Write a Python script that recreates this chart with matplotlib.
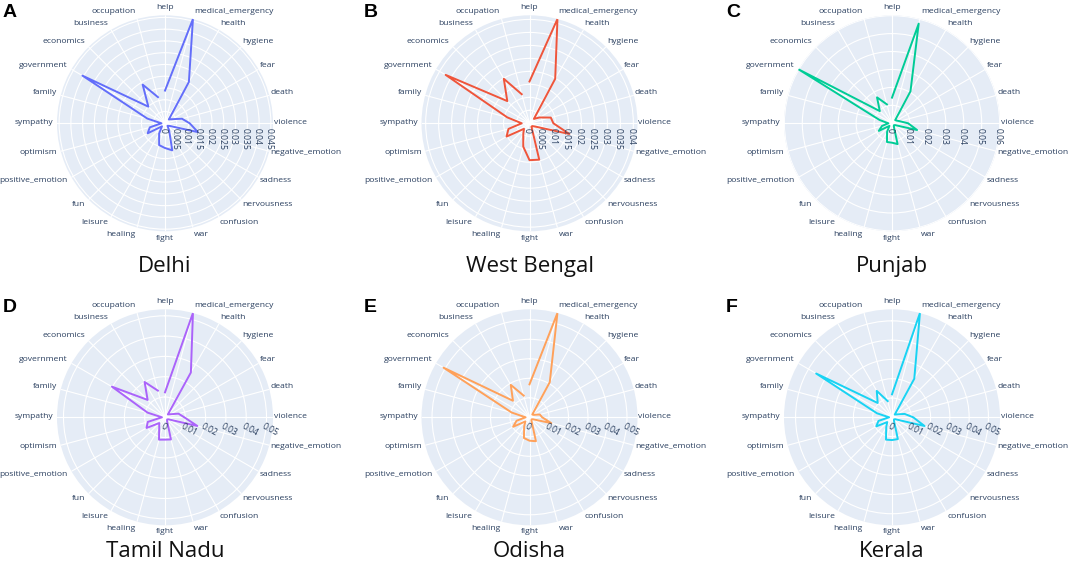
import numpy as np
import matplotlib
matplotlib.use("Agg")
from matplotlib import pyplot as plt

categories = ['help', 'medical_emergency', 'health', 'hygiene', 'fear', 'death',
              'violence', 'negative_emotion', 'sadness', 'nervousness', 'confusion',
              'war', 'fight', 'healing', 'leisure', 'fun', 'positive_emotion',
              'optimism', 'sympathy', 'family', 'government', 'economics',
              'business', 'occupation']

delhi = [0.0139, 0.0459, 0.0203, 0.0023, 0.0035, 0.0075, 0.0105, 0.0145,
         0.0022, 0.0015, 0.0035, 0.0119, 0.0105, 0.0096, 0.0050, 0.0018,
         0.0085, 0.0067, 0.0015, 0.0078, 0.0405, 0.0100, 0.0190, 0.0115]
west_bengal = [0.0161, 0.0416, 0.0198, 0.0024, 0.0045, 0.0085, 0.0092, 0.0159,
               0.0025, 0.0015, 0.0015, 0.0145, 0.0142, 0.0093, 0.0048, 0.0030,
               0.0102, 0.0084, 0.0030, 0.0089, 0.0373, 0.0121, 0.0198, 0.0116]
punjab = [0.0143, 0.0575, 0.0206, 0.0025, 0.0030, 0.0045, 0.0090, 0.0145,
          0.0020, 0.0015, 0.0020, 0.0120, 0.0108, 0.0108, 0.0055, 0.0020,
          0.0085, 0.0058, 0.0020, 0.0072, 0.0602, 0.0096, 0.0167, 0.0109]
tamil_nadu = [0.0123, 0.0532, 0.0255, 0.0020, 0.0030, 0.0069, 0.0095, 0.0165,
              0.0020, 0.0015, 0.0020, 0.0113, 0.0110, 0.0114, 0.0057, 0.0040,
              0.0105, 0.0088, 0.0015, 0.0089, 0.0302, 0.0121, 0.0201, 0.0136]
odisha = [0.0169, 0.0554, 0.0208, 0.0020, 0.0025, 0.0055, 0.0065, 0.0116,
          0.0020, 0.0015, 0.0020, 0.0127, 0.0120, 0.0110, 0.0055, 0.0030,
          0.0097, 0.0069, 0.0020, 0.0095, 0.0509, 0.0120, 0.0192, 0.0115]
kerala = [0.0119, 0.0560, 0.0231, 0.0020, 0.0030, 0.0068, 0.0110, 0.0175,
          0.0020, 0.0015, 0.0020, 0.0117, 0.0118, 0.0120, 0.0060, 0.0035,
          0.0094, 0.0073, 0.0015, 0.0081, 0.0454, 0.0105, 0.0158, 0.0087]

series = [delhi, west_bengal, punjab, tamil_nadu, odisha, kerala]
states = ['Delhi', 'West Bengal', 'Punjab', 'Tamil Nadu', 'Odisha', 'Kerala']
letters = ['A', 'B', 'C', 'D', 'E', 'F']
tick_steps = [0.005, 0.005, 0.01, 0.01, 0.01, 0.01]

colors = ['#636EFA', '#EF553B', '#00CC96', '#AB63FA', '#FFA15A', '#19D3F3']
bg_color = '#E5ECF6'
text_color = '#2a3f5f'

W, H = 1072, 563
R = 108
col_x = [165, 529.5, 892]
row_y = [123.3, 417.3]
title_y = [272, 557]      # baseline of state names
letter_x = [3, 364, 726]
letter_y = [4, 299]

fig = plt.figure(figsize=(W / 100, H / 100), dpi=100)
theta = np.deg2rad(np.arange(len(categories)) * 15)

for i, values in enumerate(series):
    row, col = divmod(i, 3)
    cx, cy = col_x[col], row_y[row]
    ax = fig.add_axes([(cx - R) / W, 1 - (cy + R) / H, 2 * R / W, 2 * R / H],
                      projection='polar')
    ax.set_theta_zero_location('N')
    ax.set_theta_direction(-1)
    rmax = max(values)
    ax.set_ylim(0, rmax)
    ax.set_facecolor(bg_color)
    ax.spines['polar'].set_visible(False)

    ticks = np.arange(0, rmax + 1e-9, tick_steps[i])
    ax.set_xticks(theta)
    ax.set_xticklabels([])
    ax.set_yticks(ticks)
    ax.set_yticklabels([])
    ax.tick_params(length=0)
    ax.grid(True, color='white', linewidth=0.8)
    ax.set_axisbelow(True)

    ax.plot(theta, values, color=colors[i], linewidth=1.4, zorder=3)

    # category labels around the circle
    for th, name in zip(theta, categories):
        s, c = np.sin(th), np.cos(th)
        if s > 0.05:
            ha, dx = 'left', 1.0
        elif s < -0.05:
            ha, dx = 'right', -3.5 * min(1, 1.6 * abs(s))
        else:
            ha, dx = 'center', 0
        dy = 7.2 * c + 0.5
        ax.annotate(name, xy=(th, rmax), xytext=(dx, dy), textcoords='offset pixels',
                    ha=ha, va='center', fontsize=6.1, family='Open Sans',
                    color=text_color, annotation_clip=False)

    # radial tick labels along the violence direction
    for t in ticks:
        label = f'{round(t, 4):g}'
        if row == 0:
            ax.annotate(label, xy=(np.pi / 2, t), xytext=(-2, -4.5),
                        textcoords='offset pixels', rotation=-90, ha='center', va='top',
                        fontsize=6.2, family='Open Sans', color=text_color,
                        annotation_clip=False, zorder=4)
        else:
            ax.annotate(label, xy=(np.pi / 2, t), xytext=(-1.5, -5),
                        textcoords='offset pixels', rotation=-28, rotation_mode='anchor',
                        ha='left', va='top', fontsize=6.2, family='Open Sans',
                        color=text_color, annotation_clip=False, zorder=4)

    fig.text(cx / W, 1 - title_y[row] / H, states[i], ha='center', va='baseline',
             fontsize=16, family='Open Sans', color='#111111')
    fig.text(letter_x[col] / W, 1 - letter_y[row] / H, letters[i], ha='left', va='top',
             fontsize=14, fontweight='bold', family='Liberation Sans', color='black')

fig.savefig('out.png', dpi=100, facecolor='white')
plt.close(fig)
